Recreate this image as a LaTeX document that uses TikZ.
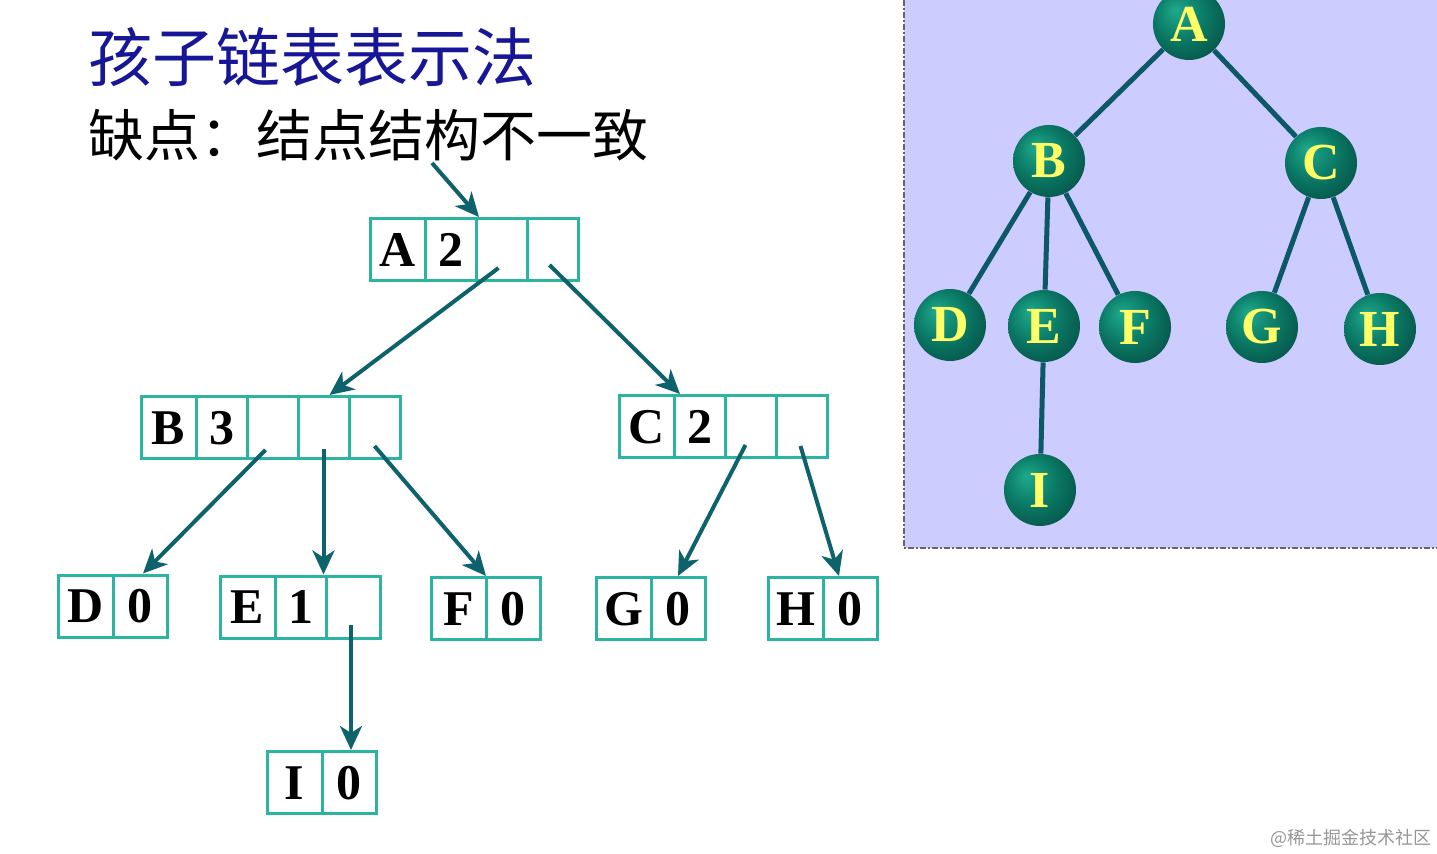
\documentclass[tikz,border=0pt]{standalone}
\usepackage{fontspec}
\setmainfont{Liberation Serif}
\newfontfamily\cjk{Noto Sans CJK SC}
\usetikzlibrary{arrows.meta,positioning,calc,backgrounds}
\definecolor{boxteal}{RGB}{43,181,160}
\definecolor{arrteal}{RGB}{14,98,108}
\definecolor{titleblue}{RGB}{22,22,150}
\definecolor{panel}{RGB}{204,204,255}
\definecolor{treeline}{RGB}{12,88,105}
\definecolor{lettery}{RGB}{255,255,102}
\definecolor{ballA}{RGB}{30,170,140}
\definecolor{ballB}{RGB}{10,120,100}
\definecolor{ballC}{RGB}{5,72,64}
\definecolor{wmgray}{RGB}{150,150,150}
\pgfdeclareradialshading{greenball}{\pgfpoint{-10bp}{10bp}}{color(0bp)=(ballA); color(18bp)=(ballB); color(38bp)=(ballC); color(50bp)=(ballC)}
\tikzset{
  rcell/.style={draw=boxteal, line width=1.5pt, minimum height=31pt, inner sep=0pt, outer sep=0pt, font=\fontsize{25}{25}\selectfont\bfseries, anchor=west},
  kcell/.style={rcell, minimum width=27.5pt},
  ncell/.style={rcell, minimum width=25.5pt},
  wcell/.style={rcell, minimum width=27pt},
  ptr/.style={draw=arrteal, line width=2pt, -{Stealth[length=12pt,width=11pt,inset=3.5pt]}},
  tnode/.style={circle, minimum size=36pt, inner sep=0pt, shading=greenball, text=lettery, font=\fontsize{26}{26}\selectfont\bfseries},
  tedge/.style={draw=treeline, line width=2.5pt},
}
\begin{document}
\begin{tikzpicture}[x=0.5pt,y=-0.5pt]
\useasboundingbox (0,0) rectangle (1437,854);
% titles
\node[anchor=west, inner sep=0pt, text=titleblue, font=\cjk\fontsize{32}{32}\selectfont] (title) at (88,57) {孩子链表表示法};
\node[anchor=west, inner sep=0pt, font=\cjk\fontsize{28}{28}\selectfont] (sub) at (88,135) {缺点：结点结构不一致};
% records
\node[kcell] (A1) at (370,250) {A};
\node[ncell,right=0pt of A1] (A2) {2};
\node[ncell,right=0pt of A2] (A3) {};
\node[ncell,right=0pt of A3] (A4) {};
\node[kcell] (B1) at (141,428) {B};
\node[ncell,right=0pt of B1] (B2) {3};
\node[ncell,right=0pt of B2] (B3) {};
\node[ncell,right=0pt of B3] (B4) {};
\node[ncell,right=0pt of B4] (B5) {};
\node[kcell] (C1) at (619,427) {C};
\node[ncell,right=0pt of C1] (C2) {2};
\node[ncell,right=0pt of C2] (C3) {};
\node[ncell,right=0pt of C3] (C4) {};
\node[kcell] (D1) at (58,606.5) {D};
\node[wcell,right=0pt of D1] (D2) {0};
\node[kcell] (E1) at (220,607.5) {E};
\node[ncell,right=0pt of E1] (E2) {1};
\node[wcell,right=0pt of E2] (E3) {};
\node[kcell] (F1) at (431,609) {F};
\node[wcell,right=0pt of F1] (F2) {0};
\node[kcell] (G1) at (596,609) {G};
\node[wcell,right=0pt of G1] (G2) {0};
\node[kcell] (H1) at (768,609) {H};
\node[wcell,right=0pt of H1] (H2) {0};
\node[kcell] (I1) at (267,783) {I};
\node[wcell,right=0pt of I1] (I2) {0};
% pointers
\coordinate (p0) at (432,163);
\draw[ptr] (p0) -- ([shift={(3,-2)}]A3.north west);
\draw[ptr] ([shift={(-3,18)}]A3.center) -- ([shift={(6,-2)}]B4.north);
\draw[ptr] ([shift={(-3,15)}]A4.center) -- ([shift={(6,-2)}]C2.north west);
\draw[ptr] ([shift={(-7,22)}]B3.center) -- ([shift={(3,-2)}]D2.north);
\draw[ptr] ([shift={(0,21)}]B4.center) -- ($(B4.center |- E3.north)+(0,-2)$);
\draw[ptr] ([shift={(0,18)}]B5.center) -- ([shift={(0,-2)}]F2.north west);
\draw[ptr] ([shift={(-5,18)}]C3.center) -- ([shift={(0,-2)}]G2.north);
\draw[ptr] ([shift={(-1,19)}]C4.center) -- ([shift={(-11,-2)}]H2.north);
\draw[ptr] ([shift={(-2,18)}]E3.center) -- ($(E3.center |- I2.north)+(-2,-2)$);
% tree
\node[tnode] (tA) at (1189,24) {A};
\node[tnode] (tB) at (1049,161) {B};
\node[tnode] (tC) at (1321,163) {C};
\node[tnode] (tD) at (950,325) {D};
\node[tnode] (tE) at (1044,326) {E};
\node[tnode] (tF) at (1135,327) {F};
\node[tnode] (tG) at (1262,327) {G};
\node[tnode] (tH) at (1380,329) {H};
\node[tnode] (tI) at (1040,490) {I};
\begin{pgfonlayer}{background}
\fill[panel] (904,0) rectangle (1437,548);
\draw[draw=black!60, line width=0.75pt, dash pattern=on 3pt off 1.2pt on 0.6pt off 1.2pt] (904,0) -- (904,548) -- (1437,548);
\draw[tedge] (tA) -- (tB);
\draw[tedge] (tA) -- (tC);
\draw[tedge] (tB) -- (tD);
\draw[tedge] (tB) -- (tE);
\draw[tedge] (tB) -- (tF);
\draw[tedge] (tC) -- (tG);
\draw[tedge] (tC) -- (tH);
\draw[tedge] (tE) -- (tI);
\end{pgfonlayer}
% watermark
\node[text=wmgray, font=\cjk\fontsize{9}{9}\selectfont] (wm) at (1351,838) {@稀土掘金技术社区};
\end{tikzpicture}
\end{document}
